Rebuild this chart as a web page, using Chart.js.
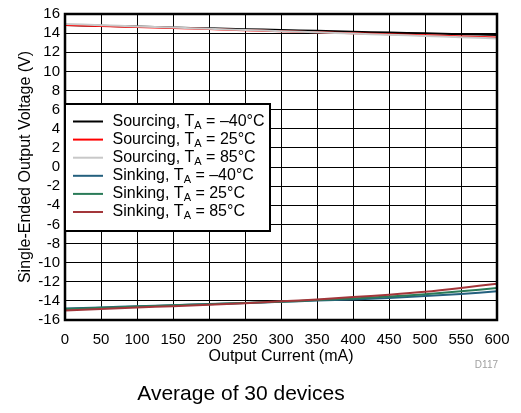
<!DOCTYPE html>
<html>
<head>
<meta charset="utf-8">
<script src="https://cdn.jsdelivr.net/npm/chart.js@4"></script>
<style>
  html, body { margin: 0; padding: 0; background: #fff; }
  #wrap { width: 521px; height: 413px; }
</style>
</head>
<body>
<div id="wrap"><canvas id="myChart" width="521" height="413"></canvas></div>
<script>
const currents = [0, 50, 100, 150, 200, 250, 300, 350, 400, 450, 500, 550, 600];

const srcMinus40 = [14.85, 14.76, 14.68, 14.59, 14.50, 14.41, 14.33, 14.24, 14.15, 14.06, 13.98, 13.89, 13.80];
const src25      = [14.85, 14.74, 14.63, 14.53, 14.42, 14.31, 14.20, 14.09, 13.98, 13.87, 13.77, 13.66, 13.55];
const src85      = [14.95, 14.83, 14.70, 14.58, 14.45, 14.33, 14.20, 14.08, 13.95, 13.83, 13.70, 13.58, 13.45];
const sinkMinus40 = [-14.80, -14.68, -14.56, -14.45, -14.33, -14.22, -14.10, -13.97, -13.85, -13.70, -13.50, -13.28, -13.00];
const sink25      = [-14.85, -14.72, -14.60, -14.47, -14.35, -14.22, -14.08, -13.92, -13.75, -13.55, -13.30, -13.00, -12.65];
const sink85      = [-15.00, -14.85, -14.70, -14.55, -14.40, -14.25, -14.05, -13.85, -13.60, -13.35, -13.05, -12.65, -12.20];

// legend text: [before subscript, subscript, after]
const seriesNames = [
    ['Sourcing, T', 'A', ' = \u201340\u00B0C'],
    ['Sourcing, T', 'A', ' = 25\u00B0C'],
    ['Sourcing, T', 'A', ' = 85\u00B0C'],
    ['Sinking, T', 'A', ' = \u201340\u00B0C'],
    ['Sinking, T', 'A', ' = 25\u00B0C'],
    ['Sinking, T', 'A', ' = 85\u00B0C']
];
const seriesColors = ['#000000', '#ff0000', '#c8c8c8', '#24607e', '#2a7b58', '#a3363a'];
const seriesValues = [srcMinus40, src25, src85, sinkMinus40, sink25, sink85];

const fontFamily = '"Liberation Sans", Arial, Helvetica, sans-serif';

// frame, legend box and the notes under the chart
const extrasPlugin = {
    id: 'extras',
    afterDatasetsDraw(chart) {
        const ctx = chart.ctx;
        const a = chart.chartArea;
        ctx.save();
        ctx.strokeStyle = '#000';
        ctx.lineWidth = 2.5;
        ctx.strokeRect(a.left, a.top, a.right - a.left, a.bottom - a.top);

        // legend
        const bx = a.left, by = 104, bw = 205, bh = 127;
        ctx.fillStyle = '#fff';
        ctx.fillRect(bx, by, bw, bh);
        ctx.lineWidth = 2;
        ctx.strokeRect(bx, by, bw, bh);
        seriesNames.forEach((parts, i) => {
            const y = 121.5 + i * 18.1;
            ctx.strokeStyle = seriesColors[i];
            ctx.lineWidth = 2;
            ctx.beginPath();
            ctx.moveTo(73, y);
            ctx.lineTo(103, y);
            ctx.stroke();
            ctx.fillStyle = '#000';
            ctx.textBaseline = 'middle';
            ctx.textAlign = 'left';
            let x = 112.5;
            ctx.font = '16px ' + fontFamily;
            ctx.fillText(parts[0], x, y);
            x += ctx.measureText(parts[0]).width;
            ctx.font = '11px ' + fontFamily;
            ctx.fillText(parts[1], x, y + 4);
            x += ctx.measureText(parts[1]).width;
            ctx.font = '16px ' + fontFamily;
            ctx.fillText(parts[2], x, y);
        });

        ctx.fillStyle = '#a0a0a0';
        ctx.font = '10px ' + fontFamily;
        ctx.textAlign = 'right';
        ctx.textBaseline = 'alphabetic';
        ctx.fillText('D117', 498, 368);

        ctx.fillStyle = '#000';
        ctx.font = '21px ' + fontFamily;
        ctx.textAlign = 'center';
        ctx.fillText('Average of 30 devices', 241, 400);
        ctx.restore();
    }
};

const ctx = document.getElementById('myChart').getContext('2d');
new Chart(ctx, {
    type: 'line',
    data: {
        labels: currents,
        datasets: seriesValues.map((vals, i) => ({
            label: seriesNames[i].join(''),
            data: vals,
            borderColor: seriesColors[i],
            borderWidth: 2,
            pointRadius: 0,
            tension: 0.3,
            fill: false,
            order: seriesValues.length - i // later series on top
        }))
    },
    options: {
        responsive: false,
        animation: false,
        layout: { padding: { top: 14, right: 24, left: 0, bottom: 47 } },
        plugins: {
            legend: { display: false },
            tooltip: { enabled: false }
        },
        scales: {
            x: {
                type: 'linear',
                min: 0,
                max: 600,
                afterFit: (s) => { s.height = 46; },
                ticks: {
                    stepSize: 50,
                    color: '#000',
                    padding: 11,
                    maxRotation: 0,
                    autoSkip: false,
                    font: { family: fontFamily, size: 15 }
                },
                grid: { color: '#000', lineWidth: 1, drawTicks: false },
                border: { display: false },
                title: {
                    display: true,
                    text: 'Output Current (mA)',
                    color: '#000',
                    padding: { top: 0, bottom: 0 },
                    font: { family: fontFamily, size: 16 }
                }
            },
            y: {
                min: -16,
                max: 16,
                afterFit: (s) => { s.width = 65; },
                ticks: {
                    stepSize: 2,
                    color: '#000',
                    padding: 5,
                    autoSkip: false,
                    font: { family: fontFamily, size: 15 }
                },
                grid: { color: '#000', lineWidth: 1, drawTicks: false },
                border: { display: false },
                title: {
                    display: true,
                    text: 'Single-Ended Output Voltage (V)',
                    color: '#000',
                    padding: { top: 16, bottom: 0 },
                    font: { family: fontFamily, size: 16 }
                }
            }
        }
    },
    plugins: [extrasPlugin]
});
</script>
</body>
</html>
